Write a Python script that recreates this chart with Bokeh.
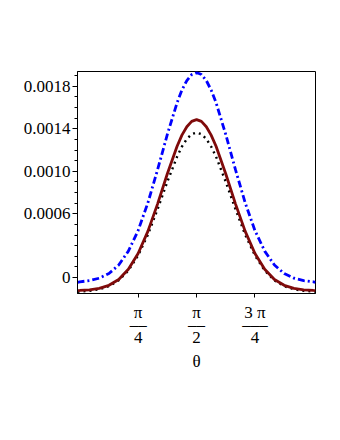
from math import pi
from bokeh.plotting import figure
from bokeh.models import FixedTicker
from bokeh.embed import file_html
from bokeh.resources import INLINE

theta = [-0.03, 0.000, 0.131, 0.262, 0.393, 0.524, 0.654, 0.785, 0.916, 1.047, 1.178,
         1.309, 1.374, 1.440, 1.505, 1.571, 1.636, 1.702, 1.767, 1.833, 1.963, 2.094,
         2.225, 2.356, 2.487, 2.618, 2.749, 2.880, 3.011, 3.142, 3.17]

blue_dashdot = [-0.000045, -0.000040, -0.000029, -0.000006, 0.000038, 0.000118, 0.000249,
                0.000442, 0.000703, 0.001016, 0.001348, 0.001646, 0.001765, 0.001855,
                0.001911, 0.001930, 0.001911, 0.001855, 0.001765, 0.001646, 0.001348,
                0.001016, 0.000703, 0.000442, 0.000249, 0.000118, 0.000038, -0.000006,
                -0.000029, -0.000040, -0.000045]

red_solid = [-0.000122, -0.000121, -0.000115, -0.000102, -0.000073, -0.000018, 0.000078,
             0.000226, 0.000435, 0.000694, 0.000977, 0.001236, 0.001341, 0.001420,
             0.001470, 0.001487, 0.001470, 0.001420, 0.001341, 0.001236, 0.000977,
             0.000694, 0.000435, 0.000226, 0.000078, -0.000018, -0.000073, -0.000102,
             -0.000115, -0.000121, -0.000122]

black_dotted = [-0.000133, -0.000131, -0.000125, -0.000110, -0.000081, -0.000026, 0.000066,
                0.000208, 0.000403, 0.000644, 0.000902, 0.001138, 0.001233, 0.001305,
                0.001350, 0.001365, 0.001350, 0.001305, 0.001233, 0.001138, 0.000902,
                0.000644, 0.000403, 0.000208, 0.000066, -0.000026, -0.000081, -0.000110,
                -0.000125, -0.000131, -0.000133]

x_ticks = [pi / 4, pi / 2, 3 * pi / 4]
x_tick_labels = ["π\n––\n4", "π\n––\n2", "3 π\n–––\n4"]
y_ticks = [0.0, 0.0006, 0.0010, 0.0014, 0.0018]
y_tick_labels = ["0", "0.0006", "0.0010", "0.0014", "0.0018"]
y_minor = [0.0001, 0.0002, 0.0003, 0.0004, 0.0005, 0.0007, 0.0008, 0.0009, 0.0011,
           0.0012, 0.0013, 0.0015, 0.0016, 0.0017, 0.0019]

FONT = "Times New Roman"

p = figure(frame_width=238, frame_height=222,
           x_range=(-0.03, 3.17), y_range=(-0.00015, 0.00194),
           output_backend="svg", toolbar_location=None,
           min_border_left=77, min_border_top=71, min_border_right=10,
           min_border_bottom=90)

p.xgrid.visible = False
p.ygrid.visible = False
p.outline_line_color = "black"
p.outline_line_alpha = 1.0
p.outline_line_width = 1
p.background_fill_color = "white"
p.border_fill_color = "white"

p.line(theta, black_dotted, line_color="black", line_width=2.4, line_dash="2 4")
p.line(theta, red_solid, line_color="#7f0a0a", line_width=2.8)
p.line(theta, blue_dashdot, line_color="#0000ff", line_width=2.8, line_dash="7 3 2 3")

ya = p.yaxis[0]
ya.ticker = FixedTicker(ticks=y_ticks, minor_ticks=y_minor)
ya.major_label_overrides = {t: s for t, s in zip(y_ticks, y_tick_labels)}
ya.major_tick_out = 5
ya.major_tick_in = 0
ya.minor_tick_out = 3
ya.minor_tick_in = 0
ya.axis_line_color = "black"
ya.major_tick_line_color = "black"
ya.minor_tick_line_color = "black"
ya.major_label_text_font = FONT
ya.major_label_text_font_size = "17px"
ya.major_label_text_color = "black"
ya.major_label_standoff = 2

xa = p.xaxis[0]
xa.ticker = FixedTicker(ticks=x_ticks, minor_ticks=[])
xa.major_label_overrides = {t: s for t, s in zip(x_ticks, x_tick_labels)}
xa.major_tick_out = 4
xa.major_tick_in = 0
xa.axis_line_color = "black"
xa.major_tick_line_color = "black"
xa.major_label_text_font = FONT
xa.major_label_text_font_size = "17px"
xa.major_label_text_color = "black"
xa.major_label_text_line_height = 0.68
xa.major_label_standoff = 5
xa.axis_label = "θ"
xa.axis_label_text_font = FONT
xa.axis_label_text_font_size = "17px"
xa.axis_label_text_font_style = "normal"
xa.axis_label_text_color = "black"
xa.axis_label_standoff = 2

open("out.html", "w").write(file_html(p, INLINE))
